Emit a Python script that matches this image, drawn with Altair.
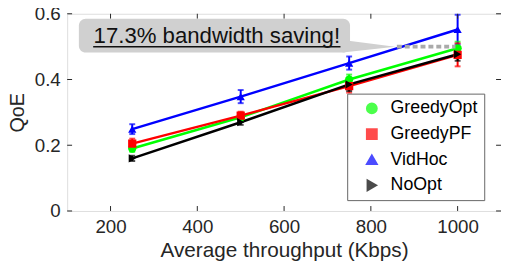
import altair as alt
import pandas as pd

series = ["GreedyOpt", "GreedyPF", "VidHoc", "NoOpt"]
colors = ["#00ff00", "#ff0000", "#0000ff", "#000000"]
shapes = ["circle", "square", "triangle-up", "triangle-right"]
throughput = [250, 500, 750, 1000]
qoe = {
    "GreedyOpt": [0.190, 0.285, 0.400, 0.495],
    "GreedyPF": [0.205, 0.290, 0.380, 0.475],
    "VidHoc": [0.249, 0.348, 0.450, 0.552],
    "NoOpt": [0.160, 0.270, 0.385, 0.477],
}
err = {
    "GreedyOpt": [0.010, 0.010, 0.015, 0.020],
    "GreedyPF": [0.015, 0.012, 0.020, 0.035],
    "VidHoc": [0.015, 0.020, 0.020, 0.045],
    "NoOpt": [0.008, 0.008, 0.020, 0.020],
}
annotation_text = "17.3% bandwidth saving!"
xticks = [200, 400, 600, 800, 1000]
yticks = [0, 0.2, 0.4, 0.6]

rows = []
for s in series:
    for i, x in enumerate(throughput):
        rows.append({"series": s, "x": x, "y": qoe[s][i],
                     "lo": qoe[s][i] - err[s][i], "hi": qoe[s][i] + err[s][i]})
df = pd.DataFrame(rows)

W, H = 440, 200
FONT = "Liberation Sans"
xs = alt.Scale(domain=[100, 1100], nice=False, zero=False)
ys = alt.Scale(domain=[0, 0.6], nice=False)
cs = alt.Scale(domain=series, range=colors)
ss = alt.Scale(domain=series, range=shapes)

X = alt.X("x:Q", scale=xs, axis=alt.Axis(values=xticks, title="Average throughput (Kbps)",
          tickSize=0, labelFontSize=19, titleFontSize=21, labelColor="#262626",
          titleColor="#262626", labelPadding=7, titlePadding=3, domain=False, grid=False,
          format="d", labelFont=FONT, titleFont=FONT, titleFontWeight="normal"))
Y = alt.Y("y:Q", scale=ys, axis=alt.Axis(values=yticks, title="QoE", tickSize=0,
          labelFontSize=19, titleFontSize=20, labelColor="#262626", titleColor="#262626",
          labelPadding=7, titlePadding=7, domain=False, grid=False, format="~g",
          labelFont=FONT, titleFont=FONT, titleFontWeight="normal"))

legend = alt.Legend(
    title=None, orient="none", legendX=284, legendY=81, labelFontSize=18,
    labelFont=FONT, labelColor="#000000", symbolSize=100,
    strokeColor="#666666", fillColor="white", padding=6, rowPadding=8,
    symbolOffset=10, labelOffset=10, symbolStrokeWidth=2)
C = alt.Color("series:N", scale=cs, sort=series, legend=legend)
S = alt.Shape("series:N", scale=ss, sort=series, legend=legend)

base = alt.Chart(df)

err_rules = base.mark_rule(strokeWidth=2).encode(
    x=alt.X("x:Q", scale=xs), y=alt.Y("lo:Q", scale=ys), y2="hi:Q", color=C)
cap_lo = base.mark_tick(thickness=2, size=6, orient="horizontal").encode(
    x=alt.X("x:Q", scale=xs), y=alt.Y("lo:Q", scale=ys), color=C)
cap_hi = base.mark_tick(thickness=2, size=6, orient="horizontal").encode(
    x=alt.X("x:Q", scale=xs), y=alt.Y("hi:Q", scale=ys), color=C)
lines = base.mark_line(strokeWidth=2.5).encode(
    x=X, y=Y, detail="series:N", order="x:Q", color=C)
points = base.mark_point(filled=True, size=70, opacity=1).encode(
    x=alt.X("x:Q", scale=xs), y=alt.Y("y:Q", scale=ys), color=C, shape=S)

# annotation (data-space positions)
box_df = pd.DataFrame({"x": [127], "x2": [752], "y": [0.585], "y2": [0.482]})
box = alt.Chart(box_df).mark_rect(color="#d0d0d0", cornerRadius=7).encode(
    x=alt.X("x:Q", scale=xs), x2="x2:Q", y=alt.Y("y:Q", scale=ys), y2="y2:Q")
wedge_df = pd.DataFrame({"x": [735, 856], "y": [0.482, 0.5], "y2": [0.52, 0.5]})
wedge = alt.Chart(wedge_df).mark_area(color="#d0d0d0").encode(
    x=alt.X("x:Q", scale=xs), y=alt.Y("y:Q", scale=ys), y2="y2:Q")
txt_df = pd.DataFrame({"x": [445], "y": [0.531], "t": [annotation_text]})
txt = alt.Chart(txt_df).mark_text(fontSize=22.5, font=FONT, color="#111111").encode(
    x=alt.X("x:Q", scale=xs), y=alt.Y("y:Q", scale=ys), text="t:N")
ul_df = pd.DataFrame({"x": [160], "x2": [730], "y": [0.5]})
ul = alt.Chart(ul_df).mark_rule(color="#111111", strokeWidth=1.5).encode(
    x=alt.X("x:Q", scale=xs), x2="x2:Q", y=alt.Y("y:Q", scale=ys))
dot_df = pd.DataFrame({"x": [860], "x2": [995], "y": [0.5]})
dots = alt.Chart(dot_df).mark_rule(color="#aaaaaa", strokeWidth=4, strokeDash=[5, 3]).encode(
    x=alt.X("x:Q", scale=xs), x2="x2:Q", y=alt.Y("y:Q", scale=ys))

# inward ticks (MATLAB style box)
xt_df = pd.DataFrame({"v": xticks})
yt_df = pd.DataFrame({"v": yticks})
tb = alt.Chart(xt_df).mark_rule(color="#262626", strokeWidth=1).encode(
    x=alt.X("v:Q", scale=xs), y=alt.value(H), y2=alt.value(H - 5))
tt = alt.Chart(xt_df).mark_rule(color="#262626", strokeWidth=1).encode(
    x=alt.X("v:Q", scale=xs), y=alt.value(0), y2=alt.value(5))
tl = alt.Chart(yt_df).mark_rule(color="#262626", strokeWidth=1).encode(
    y=alt.Y("v:Q", scale=ys), x=alt.value(0), x2=alt.value(5))
tr = alt.Chart(yt_df).mark_rule(color="#262626", strokeWidth=1).encode(
    y=alt.Y("v:Q", scale=ys), x=alt.value(W), x2=alt.value(W - 5))

chart = alt.layer(lines, err_rules, cap_lo, cap_hi, points, tb, tt, tl, tr,
                  dots, wedge, box, ul, txt).properties(
    width=W, height=H, padding={"left": 60, "top": 4, "right": 0, "bottom": 57},
    autosize=alt.AutoSizeParams(type="none")
).configure_view(stroke="#262626", strokeWidth=1.2).configure(background="white")

chart.save("out.html", embed_options={"renderer": "svg", "actions": False})
